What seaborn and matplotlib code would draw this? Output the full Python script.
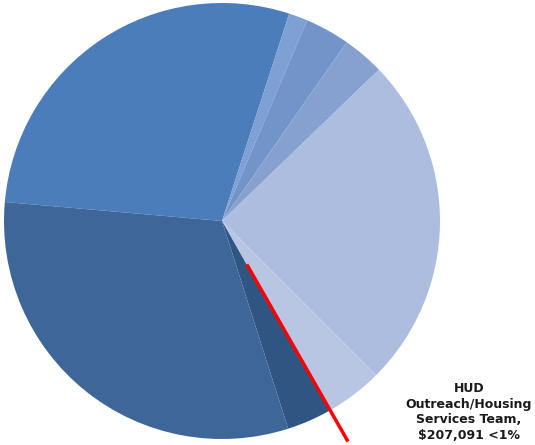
import numpy as np
import matplotlib
matplotlib.use("Agg")
import matplotlib.pyplot as plt
import seaborn as sns

# Shares of the budget (percent), clockwise from ~175 deg
segments = ["Program A", "Program B", "Program C", "Program D", "Program E",
            "Program F", "HUD Outreach/Housing Services Team", "Program G", "Program H"]
shares = [28.6, 1.4, 3.3, 3.1, 24.7, 4.2, 0.1, 3.3, 31.3]
colors = ["#4a7dba", "#7ea0d4", "#7294c8", "#86a1cf", "#adbde0",
          "#b8c6e3", "#c8d2ea", "#2f5682", "#3f6698"]
label_text = "HUD\nOutreach/Housing\nServices Team,\n$207,091 <1%"
label_index = 6

sns.set_theme(style="white")

W, H = 535, 445
fig = plt.figure(figsize=(W / 100, H / 100), dpi=100)
ax = fig.add_axes([0, 0, 1, 1])
cx, cy, r = 222, H - 221, 218
wedges, _ = ax.pie(shares, colors=colors, startangle=175, counterclock=False,
                   center=(cx, cy), radius=r, frame=True,
                   wedgeprops=dict(linewidth=0))
ax.set_xlim(0, W)
ax.set_ylim(0, H)
ax.set_aspect("equal")
ax.axis("off")

w = wedges[label_index]
ang = np.deg2rad((w.theta1 + w.theta2) / 2)
r0, r1 = 50, 254
ax.plot([cx + r0 * np.cos(ang), cx + r1 * np.cos(ang)],
        [cy + r0 * np.sin(ang), cy + r1 * np.sin(ang)],
        color="#ff0000", lw=2.5, solid_capstyle="butt")

ax.text(469, H - 412, label_text, ha="center", va="center", fontsize=9,
        fontweight="bold", color="#1a1a1a", linespacing=1.25,
        family="DejaVu Sans")

fig.savefig("out.png", dpi=100)
